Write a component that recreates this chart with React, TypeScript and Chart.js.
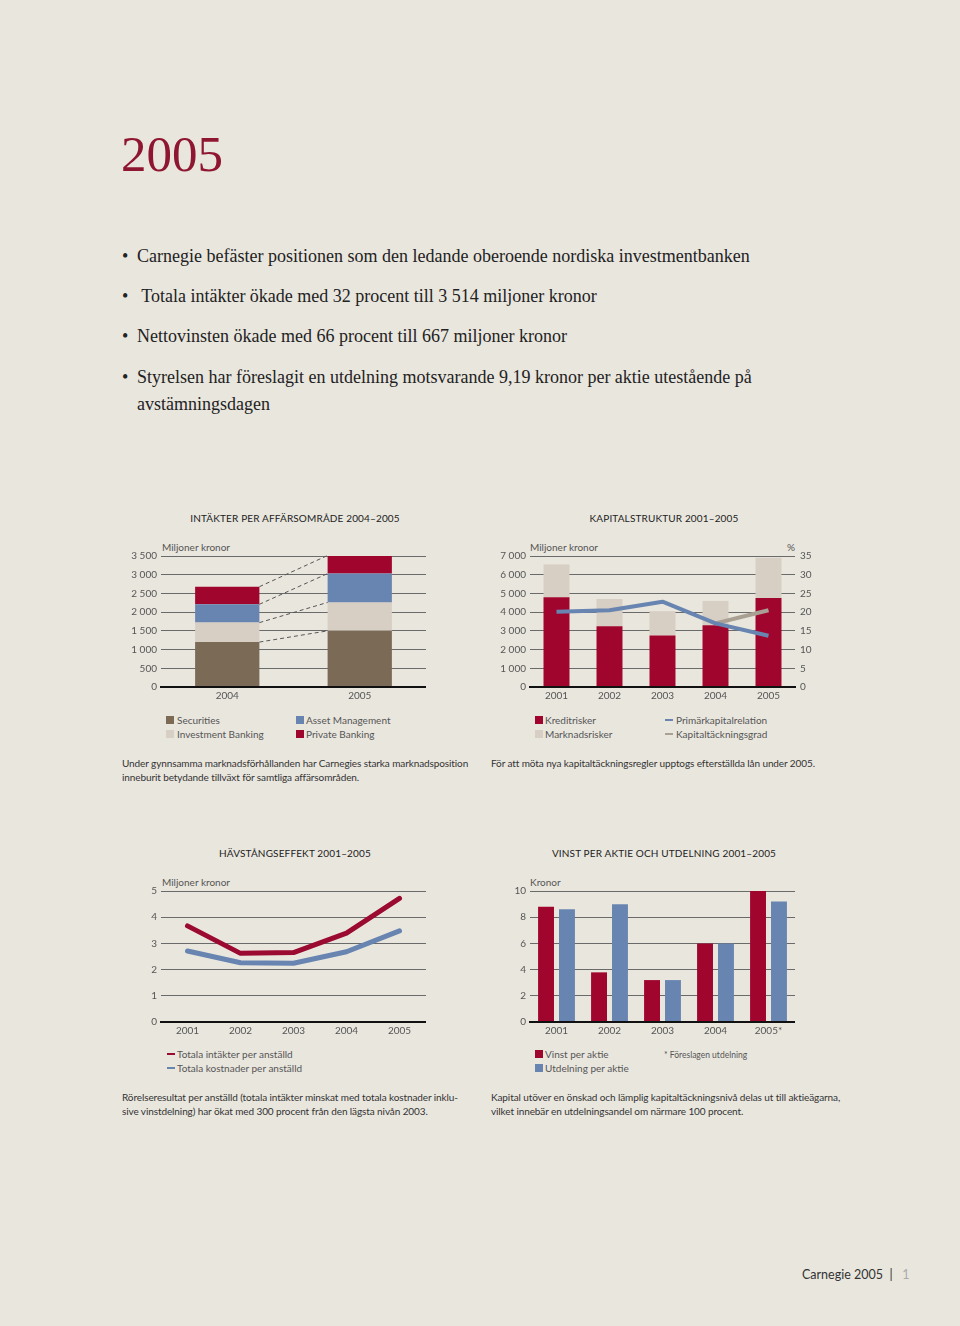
import React, { useEffect, useRef } from 'react';
import { Chart, registerables } from 'chart.js';

Chart.register(...registerables);

// ---------- Data ----------
const revenueYears = ['2004', '2005'];
const securities = [1200, 1500];
const investmentBanking = [520, 760];
const assetManagement = [490, 770];
const privateBanking = [470, 484];

const capitalYears = ['2001', '2002', '2003', '2004', '2005'];
const kreditrisker = [4800, 3250, 2750, 3300, 4750];
const marknadsrisker = [1750, 1450, 1300, 1300, 2150];
const primarkapitalrelation = [20.1, 20.5, 22.8, 17.0, 13.7];
const kapitaltackningsgrad = [null, null, null, 17.0, 20.5];

const leverageYears = ['2001', '2002', '2003', '2004', '2005'];
const intakterPerAnstalld = [3.67, 2.62, 2.65, 3.39, 4.72];
const kostnaderPerAnstalld = [2.71, 2.26, 2.24, 2.68, 3.48];

const dividendYears = ['2001', '2002', '2003', '2004', '2005*'];
const vinstPerAktie = [8.8, 3.79, 3.2, 6.0, 10.0];
const utdelningPerAktie = [8.6, 8.98, 3.2, 6.0, 9.19];

// ---------- Style ----------
const BG = '#e9e6de';
const RED = '#a0052e';
const BLUE = '#6884b0';
const LIGHT = '#d7cec4';
const BROWN = '#7a6a56';
const TAN = '#a99f93';
const GRID = '#6a6a6a';
const TICK = '#555';
const SANS = 'Lato, "Open Sans", sans-serif';
const SERIF = '"Liberation Serif", "DejaVu Serif", serif';
const TS = 10; // small text size

const fmtThousands = (v: any) => String(v).replace(/\B(?=(\d{3})+(?!\d))/g, ' ');

function yAxis(min: number, max: number, step: number, width: number, opts: any = {}) {
  return {
    position: opts.position || 'left',
    min,
    max,
    stacked: !!opts.stacked,
    ticks: {
      stepSize: step,
      color: TICK,
      font: { family: SANS, size: TS },
      padding: opts.padding ?? 4,
      callback: opts.callback || ((v: any) => fmtThousands(v)),
    },
    grid: { display: opts.grid !== false, color: GRID, lineWidth: 1, drawTicks: false, tickLength: 0 },
    border: { display: false },
    afterFit: (s: any) => {
      s.width = width;
    },
  };
}

function xAxis(opts: any = {}) {
  return {
    offset: true,
    stacked: !!opts.stacked,
    grid: { display: false, drawTicks: false, tickLength: 0 },
    border: { display: true, color: '#111', width: 2, z: 1 },
    ticks: { color: TICK, font: { family: SANS, size: TS }, padding: 3, maxRotation: 0 },
    afterFit: (s: any) => {
      s.height = 22;
    },
  };
}

const baseOptions = (padding: any) => ({
  responsive: false,
  animation: false as const,
  layout: { padding },
  plugins: { legend: { display: false }, tooltip: { enabled: false }, title: { display: false } },
  events: [] as any[],
});

const connectorPlugin = {
  id: 'connectors',
  afterDatasetsDraw(chart: any) {
    const ctx = chart.ctx;
    ctx.save();
    ctx.strokeStyle = '#555';
    ctx.lineWidth = 1;
    ctx.setLineDash([4, 3]);
    chart.data.datasets.forEach((_: any, i: number) => {
      const meta = chart.getDatasetMeta(i);
      const a = meta.data[0];
      const b = meta.data[1];
      if (!a || !b) return;
      ctx.beginPath();
      ctx.moveTo(a.x + a.width / 2, a.y);
      ctx.lineTo(b.x - b.width / 2, b.y);
      ctx.stroke();
    });
    ctx.restore();
  },
};

function ChartCanvas({ left, top, width, height, make }: any) {
  const ref = useRef<HTMLCanvasElement>(null);
  useEffect(() => {
    const chart = new Chart(ref.current as HTMLCanvasElement, make());
    return () => chart.destroy();
  }, []);
  return (
    <canvas
      ref={ref}
      width={width}
      height={height}
      style={{ position: 'absolute', left, top, width, height }}
    />
  );
}

// ---------- Chart configs ----------
const revenueConfig = () => ({
  type: 'bar',
  data: {
    labels: revenueYears,
    datasets: [
      { label: 'Securities', data: securities, backgroundColor: BROWN },
      { label: 'Investment Banking', data: investmentBanking, backgroundColor: LIGHT },
      { label: 'Asset Management', data: assetManagement, backgroundColor: BLUE },
      { label: 'Private Banking', data: privateBanking, backgroundColor: RED },
    ].map((d) => ({ ...d, categoryPercentage: 0.485, barPercentage: 1, borderWidth: 0 })),
  },
  options: {
    ...baseOptions({ top: 16, right: 0, bottom: 0, left: 0 }),
    scales: {
      x: xAxis({ stacked: true }),
      y: yAxis(0, 3500, 500, 41, { stacked: true }),
    },
  },
  plugins: [connectorPlugin],
});

const capitalConfig = () => ({
  type: 'bar',
  data: {
    labels: capitalYears,
    datasets: [
      {
        type: 'line',
        label: 'Primärkapitalrelation',
        data: primarkapitalrelation,
        yAxisID: 'y1',
        borderColor: BLUE,
        borderWidth: 4,
        pointRadius: 0,
        tension: 0,
        borderJoinStyle: 'round',
        order: 0,
      },
      {
        type: 'line',
        label: 'Kapitaltäckningsgrad',
        data: kapitaltackningsgrad,
        yAxisID: 'y1',
        borderColor: TAN,
        borderWidth: 4,
        pointRadius: 0,
        tension: 0,
        order: 1,
      },
      {
        label: 'Kreditrisker',
        data: kreditrisker,
        backgroundColor: RED,
        stack: 's',
        yAxisID: 'y',
        categoryPercentage: 0.49,
        barPercentage: 1,
        order: 2,
      },
      {
        label: 'Marknadsrisker',
        data: marknadsrisker,
        backgroundColor: LIGHT,
        stack: 's',
        yAxisID: 'y',
        categoryPercentage: 0.49,
        barPercentage: 1,
        order: 3,
      },
    ],
  },
  options: {
    ...baseOptions({ top: 16, right: 0, bottom: 0, left: 0 }),
    scales: {
      x: xAxis({ stacked: true }),
      y: yAxis(0, 7000, 1000, 40, { stacked: true }),
      y1: yAxis(0, 35, 5, 25, {
        position: 'right',
        grid: false,
        padding: 5,
        callback: (v: any) => String(v),
      }),
    },
  },
});

const leverageConfig = () => ({
  type: 'line',
  data: {
    labels: leverageYears,
    datasets: [
      {
        label: 'Totala intäkter per anställd',
        data: intakterPerAnstalld,
        borderColor: '#9b0a30',
        borderWidth: 5,
        pointRadius: 0,
        tension: 0,
        borderCapStyle: 'round',
        borderJoinStyle: 'round',
      },
      {
        label: 'Totala kostnader per anställd',
        data: kostnaderPerAnstalld,
        borderColor: BLUE,
        borderWidth: 5,
        pointRadius: 0,
        tension: 0,
        borderCapStyle: 'round',
        borderJoinStyle: 'round',
      },
    ],
  },
  options: {
    ...baseOptions({ top: 16, right: 0, bottom: 0, left: 0 }),
    scales: {
      x: xAxis(),
      y: yAxis(0, 5, 1, 41, { callback: (v: any) => String(v) }),
    },
  },
});

const dividendConfig = () => ({
  type: 'bar',
  data: {
    labels: dividendYears,
    datasets: [
      { label: 'Vinst per aktie', data: vinstPerAktie, backgroundColor: RED },
      { label: 'Utdelning per aktie', data: utdelningPerAktie, backgroundColor: BLUE },
    ].map((d) => ({ ...d, categoryPercentage: 0.79, barPercentage: 0.76, borderWidth: 0 })),
  },
  options: {
    ...baseOptions({ top: 16, right: 0, bottom: 0, left: 0 }),
    scales: {
      x: xAxis(),
      y: yAxis(0, 10, 2, 40, { callback: (v: any) => String(v) }),
    },
  },
});

// ---------- Text helpers ----------
function Txt({ x, y, size = TS, color = '#333', family = SANS, children, style = {} }: any) {
  const lh = Math.round(size * 1.3);
  return (
    <div
      style={{
        position: 'absolute',
        left: x,
        top: y - lh / 2,
        fontSize: size,
        lineHeight: lh + 'px',
        color,
        fontFamily: family,
        whiteSpace: 'nowrap',
        ...style,
      }}
    >
      {children}
    </div>
  );
}

function Title({ cx, y, children }: any) {
  return (
    <div
      style={{
        position: 'absolute',
        left: cx - 150,
        width: 300,
        top: y - 7,
        lineHeight: '14px',
        textAlign: 'center',
        fontFamily: SANS,
        fontSize: 10,
        letterSpacing: 0.15,
        color: '#222',
        whiteSpace: 'nowrap',
      }}
    >
      {children}
    </div>
  );
}

function Swatch({ x, y, color }: any) {
  return <div style={{ position: 'absolute', left: x, top: y - 4, width: 8, height: 8, background: color }} />;
}

function Dash({ x, y, color }: any) {
  return <div style={{ position: 'absolute', left: x, top: y - 1, width: 8, height: 2, background: color }} />;
}

const CAP = { letterSpacing: -0.1 };
const CH = 169; // canvas height: 16 top pad + 131 plot + 22 x-axis

export default function App() {
  useEffect(() => {
    document.body.style.margin = '0';
    document.body.style.background = BG;
  }, []);

  const bullets = [
    { y: 256, text: 'Carnegie befäster positionen som den ledande oberoende nordiska investmentbanken' },
    { y: 296, text: ' Totala intäkter ökade med 32 procent till 3 514 miljoner kronor' },
    { y: 336, text: 'Nettovinsten ökade med 66 procent till 667 miljoner kronor' },
    { y: 377, text: 'Styrelsen har föreslagit en utdelning motsvarande 9,19 kronor per aktie utestående på' },
  ];

  return (
    <div
      style={{
        position: 'absolute',
        left: 0,
        top: 0,
        width: 960,
        height: 1326,
        background: BG,
        overflow: 'hidden',
      }}
    >
      {/* Header */}
      <div
        style={{
          position: 'absolute',
          left: 121,
          top: 128,
          fontFamily: SERIF,
          fontSize: 51,
          lineHeight: '52px',
          color: '#8e1631',
        }}
      >
        2005
      </div>

      {bullets.map((b, i) => (
        <React.Fragment key={i}>
          <Txt x={122} y={b.y} size={18} family={SERIF} color="#222">
            •
          </Txt>
          <Txt x={137} y={b.y} size={18} family={SERIF} color="#222" style={{ whiteSpace: 'pre' }}>
            {b.text}
          </Txt>
        </React.Fragment>
      ))}
      <Txt x={137} y={404} size={18} family={SERIF} color="#222">
        avstämningsdagen
      </Txt>

      {/* Chart 1 */}
      <Title cx={295} y={518}>INTÄKTER PER AFFÄRSOMRÅDE 2004–2005</Title>
      <Txt x={162} y={547} color={TICK}>Miljoner kronor</Txt>
      <ChartCanvas left={120} top={540} width={306} height={CH} make={revenueConfig} />
      <Swatch x={166} y={720} color={BROWN} />
      <Txt x={177} y={720} color={TICK}>Securities</Txt>
      <Swatch x={166} y={734} color={LIGHT} />
      <Txt x={177} y={734} color={TICK}>Investment Banking</Txt>
      <Swatch x={296} y={720} color={BLUE} />
      <Txt x={306} y={720} color={TICK}>Asset Management</Txt>
      <Swatch x={296} y={734} color={RED} />
      <Txt x={306} y={734} color={TICK}>Private Banking</Txt>
      <Txt x={122} y={763} color="#333" style={CAP}>
        Under gynnsamma marknadsförhållanden har Carnegies starka marknadsposition
      </Txt>
      <Txt x={122} y={777} color="#333" style={CAP}>
        inneburit betydande tillväxt för samtliga affärsområden.
      </Txt>

      {/* Chart 2 */}
      <Title cx={664} y={518}>KAPITALSTRUKTUR 2001–2005</Title>
      <Txt x={530} y={547} color={TICK}>Miljoner kronor</Txt>
      <Txt x={787} y={547} color={TICK}>%</Txt>
      <ChartCanvas left={490} top={540} width={330} height={CH} make={capitalConfig} />
      <Swatch x={535} y={720} color={RED} />
      <Txt x={545} y={720} color={TICK}>Kreditrisker</Txt>
      <Swatch x={535} y={734} color={LIGHT} />
      <Txt x={545} y={734} color={TICK}>Marknadsrisker</Txt>
      <Dash x={665} y={720} color={BLUE} />
      <Txt x={676} y={720} color={TICK}>Primärkapitalrelation</Txt>
      <Dash x={665} y={734} color={TAN} />
      <Txt x={676} y={734} color={TICK}>Kapitaltäckningsgrad</Txt>
      <Txt x={491} y={763} color="#333" style={CAP}>
        För att möta nya kapitaltäckningsregler upptogs efterställda lån under 2005.
      </Txt>

      {/* Chart 3 */}
      <Title cx={295} y={853}>HÄVSTÅNGSEFFEKT 2001–2005</Title>
      <Txt x={162} y={882} color={TICK}>Miljoner kronor</Txt>
      <ChartCanvas left={120} top={875} width={306} height={CH} make={leverageConfig} />
      <Dash x={167} y={1054} color="#9b0a30" />
      <Txt x={177} y={1054} color={TICK}>Totala intäkter per anställd</Txt>
      <Dash x={167} y={1068} color={BLUE} />
      <Txt x={177} y={1068} color={TICK}>Totala kostnader per anställd</Txt>
      <Txt x={122} y={1097} color="#333" style={CAP}>
        Rörelseresultat per anställd (totala intäkter minskat med totala kostnader inklu-
      </Txt>
      <Txt x={122} y={1111} color="#333" style={CAP}>
        sive vinstdelning) har ökat med 300 procent från den lägsta nivån 2003.
      </Txt>

      {/* Chart 4 */}
      <Title cx={664} y={853}>VINST PER AKTIE OCH UTDELNING 2001–2005</Title>
      <Txt x={530} y={882} color={TICK}>Kronor</Txt>
      <ChartCanvas left={490} top={875} width={305} height={CH} make={dividendConfig} />
      <Swatch x={535} y={1054} color={RED} />
      <Txt x={545} y={1054} color={TICK}>Vinst per aktie</Txt>
      <Swatch x={535} y={1068} color={BLUE} />
      <Txt x={545} y={1068} color={TICK}>Utdelning per aktie</Txt>
      <Txt x={664} y={1055} size={8.5} color={TICK}>* Föreslagen utdelning</Txt>
      <Txt x={491} y={1097} color="#333" style={CAP}>
        Kapital utöver en önskad och lämplig kapitaltäckningsnivå delas ut till aktieägarna,
      </Txt>
      <Txt x={491} y={1111} color="#333" style={CAP}>
        vilket innebär en utdelningsandel om närmare 100 procent.
      </Txt>

      {/* Footer */}
      <Txt x={802} y={1275} size={12.5} color="#333">
        Carnegie 2005&nbsp;&nbsp;|&nbsp;&nbsp;&nbsp;<span style={{ color: '#aaa' }}>1</span>
      </Txt>
    </div>
  );
}
